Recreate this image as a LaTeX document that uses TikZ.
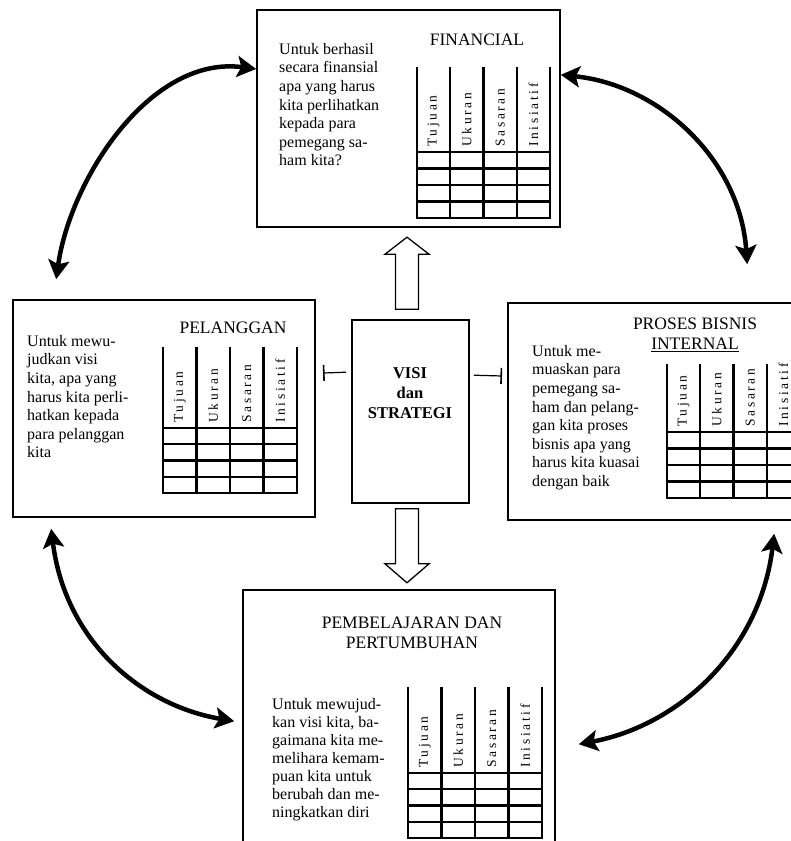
\documentclass[tikz,border=0pt]{standalone}
\usepackage{fontspec}
\setmainfont{Liberation Serif}
\newfontfamily\labelfont[LetterSpace=20]{Liberation Serif}
\usetikzlibrary{arrows.meta}
\usetikzlibrary{calc}

% score table: name, left x, right x, top y, header bottom y, bottom y
\newcommand{\scoretable}[6]{%
  \pgfmathsetmacro{\colw}{(#3-#2)/4}
  \pgfmathsetmacro{\rowh}{(#6-#5)/4}
  \foreach \i in {0,...,4}
    \draw[tabline] ({#2+\i*\colw},#4) -- ({#2+\i*\colw},#6);
  \foreach \j in {0,...,4}
    \draw[tabline] (#2,{#5+\j*\rowh}) -- (#3,{#5+\j*\rowh});
  \foreach \lbl [count=\k from 0] in {Tujuan,Ukuran,Sasaran,Inisiatif}
    \node[collabel] (#1-\k) at ({#2+(\k+0.5)*\colw},{#5-5}) {\lbl};
}

\begin{document}
\begin{tikzpicture}[x=1pt,y=-1pt,
  panel/.style={draw, line width=1.6pt, inner sep=0pt},
  title/.style={inner sep=0pt, align=center, font=\fontsize{17.5}{20}\selectfont},
  body/.style={inner sep=0pt, anchor=north west, align=left, font=\fontsize{16}{18.6}\selectfont},
  tabline/.style={line width=2.4pt, line cap=rect},
  collabel/.style={rotate=90, anchor=west, inner sep=0pt, font=\labelfont\fontsize{13.5}{14}\selectfont},
  hollow/.style={draw, line width=1.3pt, fill=white, line join=miter},
  swoop/.style={line width=4.5pt, {Stealth[length=19pt,width=21pt,inset=4pt]}-{Stealth[length=19pt,width=21pt,inset=4pt]}},
  link/.style={line width=1.2pt, -{Bar[width=16pt,line width=1.6pt]}}
]

\useasboundingbox (0,0) rectangle (791,841);
\clip (0,0) rectangle (791,841);

%---------------------------------------
% Perspective panels
%---------------------------------------
\node[panel, minimum width=303pt, minimum height=217pt] (fin)  at (408.5,118.5) {};
\node[panel, minimum width=302pt, minimum height=217pt] (pel)  at (164,408.5) {};
\node[panel, minimum width=292pt, minimum height=217pt] (int)  at (654,411.5) {};
\node[panel, minimum width=312pt, minimum height=270pt] (pemb) at (399,725) {};
\node[panel, minimum width=117pt, minimum height=183pt] (visi) at (410.5,411.5) {};

% Financial
\node[title] (fintitle) at (477,40) {FINANCIAL};
\node[body] (fintext) at (279,43)
  {Untuk berhasil\\ secara finansial\\ apa yang harus\\ kita perlihatkan\\ kepada para\\ pemegang sa-\\ ham kita?};
\scoretable{fintab}{417}{550}{68}{152}{218}

% Pelanggan
\node[title] (peltitle) at (233,328) {PELANGGAN};
\node[body] (peltext) at (27,335)
  {Untuk mewu-\\ judkan visi\\ kita, apa yang\\ harus kita perli-\\ hatkan kepada\\ para pelanggan\\ kita};
\scoretable{peltab}{163}{297}{348}{428}{493}

% Proses bisnis internal
\node[title] (inttitle) at (695,335) {PROSES BISNIS\\ \underline{INTERNAL}};
\node[body] (inttext) at (532,345)
  {Untuk me-\\ muaskan para\\ pemegang sa-\\ ham dan pelang-\\ gan kita proses\\ bisnis apa yang\\ harus kita kuasai\\ dengan baik};
\scoretable{inttab}{667}{800}{365}{432}{498}

% Pembelajaran dan pertumbuhan
\node[title] (pembtitle) at (412,633) {PEMBELAJARAN DAN\\ PERTUMBUHAN};
\node[body, font=\fontsize{16}{18}\selectfont] (pembtext) at (272,698)
  {Untuk mewujud-\\ kan visi kita, ba-\\ gaimana kita me-\\ melihara kemam-\\ puan kita untuk\\ berubah dan me-\\ ningkatkan diri};
\scoretable{pembtab}{408}{542}{688}{773}{838}

% Visi dan strategi
\node[title, font=\bfseries\fontsize{16.5}{20}\selectfont] (visitext) at (410,393) {VISI\\ dan\\ STRATEGI};

%---------------------------------------
% Hollow arrows out of the centre
%---------------------------------------
\draw[hollow] (visi.north) ++(-15,-10) -- ++(0,-55) -- ++(-10.5,0) -- ++(22,-17)
  -- ++(22,17) -- ++(-10.5,0) -- ++(0,55) -- cycle;
\draw[hollow] (visi.south) ++(-15,5) -- ++(0,55) -- ++(-10.5,0) -- ++(22,19)
  -- ++(22,-19) -- ++(-10.5,0) -- ++(0,-55) -- cycle;

% short side links
\coordinate (lto) at (323,373);
\coordinate (rto) at (502,376);
\draw[link] ($(visi.north west)+(-5,53)$) -- (lto);
\draw[link] ($(visi.north east)+(4,56)$) -- (rto);

%---------------------------------------
% Feedback loop between the perspectives
%---------------------------------------
\draw[swoop] ($(pel.north west)+(44,-20)$) .. controls (70,180) and (150,55) .. (fin.162);
\draw[swoop] (fin.16) .. controls (660,85) and (740,160) .. ($(int.north west)+(240,-38)$);
\draw[swoop] ($(pel.south west)+(39,11)$) .. controls (65,640) and (140,705) .. ($(pemb.north west)+(-8,132)$);
\draw[swoop] ($(int.south west)+(267,13)$) .. controls (760,650) and (680,725) .. ($(pemb.north east)+(23,155)$);

\end{tikzpicture}
\end{document}
